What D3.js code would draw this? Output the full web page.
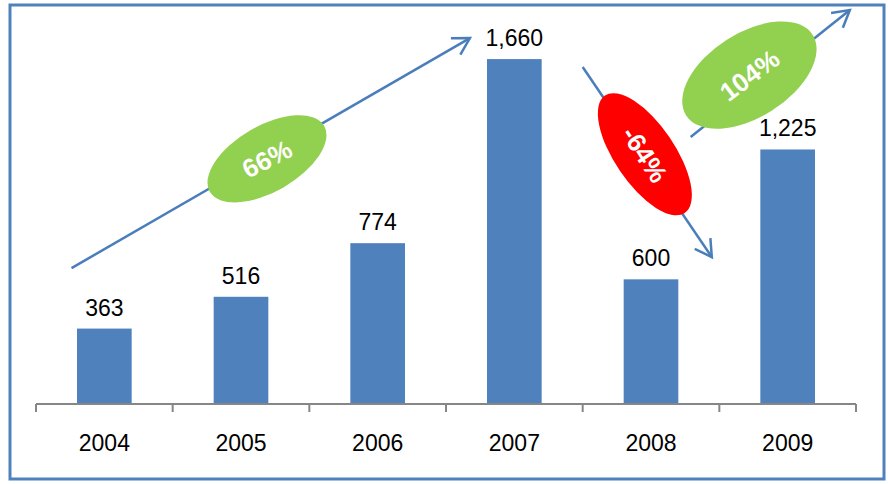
<!DOCTYPE html>
<html>
<head>
<meta charset="utf-8">
<script src="https://cdn.jsdelivr.net/npm/d3@7"></script>
<style>
  html, body { margin: 0; padding: 0; background: #fff; }
  svg { display: block; font-family: "Liberation Sans", Arial, sans-serif; }
</style>
</head>
<body>
<svg id="chart" width="888" height="484"></svg>
<script>
// Yearly values
const years = ["2004", "2005", "2006", "2007", "2008", "2009"];
const values = [363, 516, 774, 1660, 600, 1225];

// Growth annotations: arrow from/to in (category index, value) units,
// bubble centre in the same units, bubble tilt and text tilt in degrees
const growthLabels = ["66%", "-64%", "104%"];
const growthColors = ["#92d050", "#ff0000", "#92d050"];
const arrowFrom = [[-0.24, 654], [3.5, 1622], [4.29, 1285]];
const arrowTo = [[2.675, 1761], [4.445, 707], [5.455, 1896]];
const bubbleCentre = [[1.19, 1180], [3.955, 1202], [4.72, 1583]];
const bubbleAxes = [[66, 33], [71, 30], [75, 42]];
const bubbleTilt = [-30, 55.8, -32.5];
const textTilt = [-27, 57, -37];

const svg = d3.select("#chart");
const W = 888, H = 484;

// Frame
svg.append("rect")
  .attr("x", 10).attr("y", 5)
  .attr("width", 874).attr("height", 474)
  .attr("fill", "#fff")
  .attr("stroke", "#4f81bd")
  .attr("stroke-width", 3);

const x = d3.scaleBand()
  .domain(years)
  .range([36, 856])
  .paddingInner(0.6)
  .paddingOuter(0.3);

const y = d3.scaleLinear()
  .domain([0, 1800])
  .range([404, 30]);

// Continuous x over category indices, for annotations
const xi = d3.scaleLinear()
  .domain([-0.5, years.length - 0.5])
  .range([36, 856]);

// Bars
svg.append("g").selectAll("rect")
  .data(values)
  .join("rect")
  .attr("x", (d, i) => x(years[i]))
  .attr("y", d => y(d))
  .attr("width", x.bandwidth())
  .attr("height", d => y(0) - y(d))
  .attr("fill", "#4f81bd");

// Value labels
const fmt = d3.format(",");
svg.append("g").selectAll("text")
  .data(values)
  .join("text")
  .attr("x", (d, i) => x(years[i]) + x.bandwidth() / 2)
  .attr("y", d => y(d) - 13)
  .attr("text-anchor", "middle")
  .attr("font-size", 23)
  .attr("fill", "#000")
  .text(d => fmt(d));

// Category axis with tick marks between categories
const axisG = svg.append("g").attr("transform", `translate(0,${y(0)})`);
axisG.append("line")
  .attr("x1", 36).attr("x2", 856)
  .attr("stroke", "#868686").attr("stroke-width", 2);
const boundaries = d3.range(years.length + 1).map(i => xi(i - 0.5));
axisG.selectAll("line.tick")
  .data(boundaries)
  .join("line")
  .attr("class", "tick")
  .attr("x1", d => d).attr("x2", d => d)
  .attr("y1", 0).attr("y2", 8)
  .attr("stroke", "#868686").attr("stroke-width", 2);
axisG.append("g")
  .call(d3.axisBottom(x).tickSize(0).tickPadding(0))
  .call(g => g.select(".domain").remove())
  .selectAll("text")
  .attr("font-family", "Liberation Sans, Arial, sans-serif")
  .attr("font-size", 23)
  .attr("fill", "#000")
  .attr("dy", 0)
  .attr("y", 47);

// Growth arrows
const arrowColor = "#4a7ebb";
const arrows = svg.append("g");
growthLabels.forEach((lab, k) => {
  const x1 = xi(arrowFrom[k][0]), y1 = y(arrowFrom[k][1]);
  const x2 = xi(arrowTo[k][0]), y2 = y(arrowTo[k][1]);
  arrows.append("line")
    .attr("x1", x1).attr("y1", y1).attr("x2", x2).attr("y2", y2)
    .attr("stroke", arrowColor).attr("stroke-width", 2.5);
  // open arrowhead
  const ang = Math.atan2(y2 - y1, x2 - x1);
  const len = 19, spread = 0.52;
  const p1 = [x2 - len * Math.cos(ang - spread), y2 - len * Math.sin(ang - spread)];
  const p2 = [x2 - len * Math.cos(ang + spread), y2 - len * Math.sin(ang + spread)];
  arrows.append("path")
    .attr("d", `M${p1[0]},${p1[1]}L${x2},${y2}L${p2[0]},${p2[1]}`)
    .attr("fill", "none")
    .attr("stroke", arrowColor).attr("stroke-width", 2.5)
    .attr("stroke-linejoin", "miter");
});

// Growth bubbles
const bubbles = svg.append("g");
growthLabels.forEach((lab, k) => {
  const cx = xi(bubbleCentre[k][0]), cy = y(bubbleCentre[k][1]);
  bubbles.append("ellipse")
    .attr("cx", 0).attr("cy", 0)
    .attr("rx", bubbleAxes[k][0]).attr("ry", bubbleAxes[k][1])
    .attr("transform", `translate(${cx},${cy}) rotate(${bubbleTilt[k]})`)
    .attr("fill", growthColors[k]);
  bubbles.append("text")
    .attr("transform", `translate(${cx},${cy}) rotate(${textTilt[k]})`)
    .attr("text-anchor", "middle")
    .attr("dy", "0.36em")
    .attr("font-size", 26)
    .attr("font-weight", "bold")
    .attr("fill", "#fff")
    .text(lab);
});
</script>
</body>
</html>
